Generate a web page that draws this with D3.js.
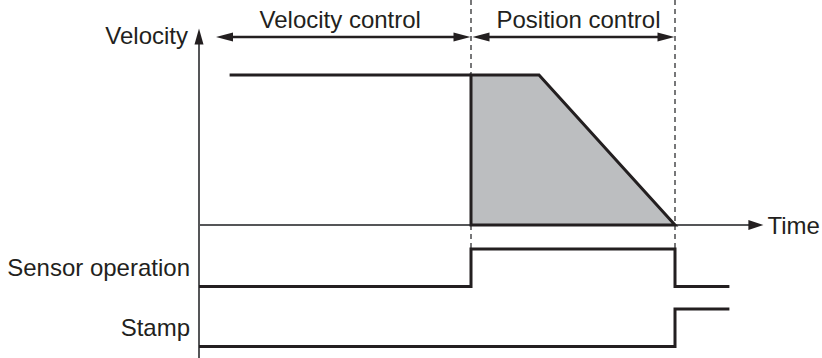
<!DOCTYPE html>
<html><head><meta charset="utf-8">
<script src="https://cdn.jsdelivr.net/npm/d3@7"></script>
<style>html,body{margin:0;padding:0;background:#fff}svg{display:block}</style>
</head><body>
<script>
// ---- data ----
const phaseNames = ["Velocity control", "Position control"];
const phaseStart = [0.25, 4];
const phaseEnd = [4, 7];
const velTimes = [0.45, 4, 5, 7];      // velocity profile time points
const velValues = [1, 1, 1, 0];        // normalized velocity
const boundaryTimes = [4, 7];          // dashed boundaries
const signalNames = ["Sensor operation", "Stamp"];
const sensorTimes = [0, 4, 7, 7.8];
const sensorLevels = [0, 1, 0, 0];
const stampTimes = [0, 7, 7.8];
const stampLevels = [0, 1, 1];
const axisLabels = ["Velocity", "Time"];

const W = 822, H = 358;
const ink = "#231f20", axisCol = "#555658";
const svg = d3.select("body").append("svg").attr("width", W).attr("height", H);
const font = "'Liberation Sans', Arial, Helvetica, sans-serif";
const fs = 24;

const x = d3.scaleLinear().domain([0, 8.3]).range([199, 763.4]);
const yV = d3.scaleLinear().domain([0, 1]).range([225, 75]);
const lane = d3.scalePoint().domain(signalNames).range([286.5, 346.5]);
const lvl = d3.scaleLinear().domain([0, 1]).range([0, -37.5]);

function arrowHead(tipX, tipY, dir, len, half) {
  const p = d3.path();
  if (dir === "r") { p.moveTo(tipX, tipY); p.lineTo(tipX - len, tipY - half); p.lineTo(tipX - len, tipY + half); }
  else if (dir === "l") { p.moveTo(tipX, tipY); p.lineTo(tipX + len, tipY - half); p.lineTo(tipX + len, tipY + half); }
  else { p.moveTo(tipX, tipY); p.lineTo(tipX - half, tipY + len); p.lineTo(tipX + half, tipY + len); }
  p.closePath();
  return p.toString();
}

// dashed boundaries
const sigTop = lane(signalNames[0]) + lvl(1);
svg.selectAll("line.bnd").data(boundaryTimes).join("line")
  .attr("x1", d => x(d)).attr("x2", d => x(d)).attr("y1", 0).attr("y2", sigTop)
  .attr("stroke", axisCol).attr("stroke-width", 1.6).attr("stroke-dasharray", "5,4");

// time axis
const x0 = x(0), xEnd = x(8.3);
svg.append("line").attr("x1", x0).attr("x2", xEnd - 12).attr("y1", yV(0)).attr("y2", yV(0))
  .attr("stroke", axisCol).attr("stroke-width", 2);
svg.append("path").attr("d", arrowHead(xEnd, yV(0), "r", 15, 5)).attr("fill", ink);

// velocity axis
const yTop = yV(1.31);
svg.append("line").attr("x1", x0).attr("x2", x0).attr("y1", H).attr("y2", yTop + 10)
  .attr("stroke", axisCol).attr("stroke-width", 2);
svg.append("path").attr("d", arrowHead(x0, yTop, "u", 16, 4.5)).attr("fill", ink);

// velocity profile
const idxSwitch = velTimes.indexOf(phaseEnd[0]);
const line = d3.line().x(d => x(d[0])).y(d => yV(d[1]));
svg.append("path").attr("d", line(velTimes.slice(0, idxSwitch + 1).map((t, i) => [t, velValues[i]])))
  .attr("fill", "none").attr("stroke", ink).attr("stroke-width", 3);
const area = d3.area().x(d => x(d[0])).y0(yV(0)).y1(d => yV(d[1]));
svg.append("path").attr("d", area(velTimes.slice(idxSwitch).map((t, i) => [t, velValues[idxSwitch + i]])) + "Z")
  .attr("fill", "#bcbec0").attr("stroke", ink).attr("stroke-width", 3).attr("stroke-linejoin", "miter");

// phase arrows & labels
const arrowY = 37;
phaseNames.forEach((name, i) => {
  const a = x(phaseStart[i]) + (i === 0 ? 0 : 1.5), b = x(phaseEnd[i]) - 0.5;
  svg.append("line").attr("x1", a + 10).attr("x2", b - 10).attr("y1", arrowY).attr("y2", arrowY)
    .attr("stroke", ink).attr("stroke-width", 2.5);
  svg.append("path").attr("d", arrowHead(a, arrowY, "l", 17, 4.5)).attr("fill", ink);
  svg.append("path").attr("d", arrowHead(b, arrowY, "r", 17, 4.5)).attr("fill", ink);
  svg.append("text").attr("x", (a + b) / 2 + (i === 0 ? -3 : 5)).attr("y", 28)
    .attr("text-anchor", "middle").attr("font-family", font).attr("font-size", fs)
    .attr("fill", ink).text(name);
});

// axis labels
svg.append("text").attr("x", 188).attr("y", 44).attr("text-anchor", "end")
  .attr("font-family", font).attr("font-size", fs).attr("fill", ink).text(axisLabels[0]);
svg.append("text").attr("x", xEnd + 4).attr("y", yV(0) + 8.5)
  .attr("font-family", font).attr("font-size", fs).attr("fill", ink).text(axisLabels[1]);

// signals
const step = d3.line().curve(d3.curveStepAfter);
const signals = [
  { name: signalNames[0], t: sensorTimes, v: sensorLevels },
  { name: signalNames[1], t: stampTimes, v: stampLevels }
];
signals.forEach(s => {
  const base = lane(s.name);
  svg.append("path")
    .attr("d", step.x(d => x(d[0])).y(d => base + lvl(d[1]))(s.t.map((t, i) => [t, s.v[i]])))
    .attr("fill", "none").attr("stroke", ink).attr("stroke-width", 3).attr("stroke-linejoin", "miter");
  svg.append("text").attr("x", 190).attr("y", base - 11).attr("text-anchor", "end")
    .attr("font-family", font).attr("font-size", fs).attr("fill", ink).text(s.name);
});
</script>
</body></html>
